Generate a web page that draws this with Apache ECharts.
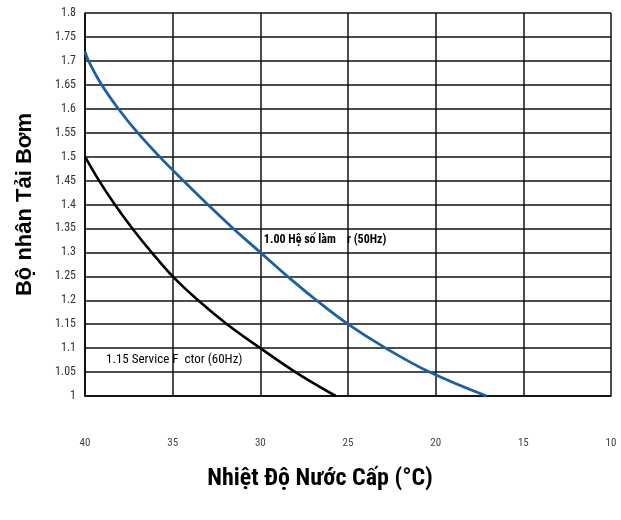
<!DOCTYPE html>
<html>
<head>
<meta charset="utf-8">
<script src="https://cdn.jsdelivr.net/npm/echarts@6/dist/echarts.min.js"></script>
<style>
  html, body { margin: 0; padding: 0; background: #fff; }
  #main { width: 621px; height: 520px; }
</style>
</head>
<body>
<div id="main"></div>
<script>
// x ticks (temperature, reversed axis)
var tempTicks = [40, 35, 30, 25, 20, 15, 10];

// 1.00 service factor (50Hz) curve
var blueTemp   = [40, 39.8, 39.05, 38.1, 37.0, 35.75, 34.4, 33.0, 31.55, 30, 28.45, 26.8, 25, 22.85, 20.35, 17.1];
var blueFactor = [1.72, 1.70, 1.65, 1.60, 1.55, 1.50, 1.45, 1.40, 1.35, 1.30, 1.25, 1.20, 1.15, 1.10, 1.05, 1.00];

// 1.15 service factor (60Hz) curve
var blackTemp   = [40, 39.2, 38.3, 37.3, 36.2, 35, 33.55, 31.9, 30, 28.0, 25.7];
var blackFactor = [1.50, 1.45, 1.40, 1.35, 1.30, 1.25, 1.20, 1.15, 1.10, 1.05, 1.00];

// annotation texts and where they sit (data coords)
var blueLabel  = { text: '1.00 Hệ số làm    r (50Hz)', at: [29.8, 1.325] };
var blackLabel = { text: '1.15 Service F  ctor (60Hz)', at: [38.8, 1.075] };

function pairs(xs, ys) {
  return xs.map(function (x, i) { return [x, ys[i]]; });
}

var narrow = "'Liberation Sans Narrow', 'Arial Narrow', 'Roboto Condensed', 'Liberation Sans', sans-serif";

var chart = echarts.init(document.getElementById('main'));

var option = {
  animation: false,
  grid: { left: 85, right: 10, top: 13, bottom: 124 },
  xAxis: {
    type: 'value',
    inverse: true,
    min: 10,
    max: 40,
    interval: 5,
    name: 'Nhiệt Độ Nước Cấp (°C)',
    nameLocation: 'middle',
    nameGap: 71,
    nameTextStyle: {
      fontFamily: narrow, fontWeight: 'bold', fontSize: 24, color: '#000',
      padding: [0, 56, 0, 0]
    },
    axisLine: { show: true, lineStyle: { color: '#000', width: 1.5 } },
    axisTick: { show: false },
    axisLabel: { margin: 42, fontFamily: narrow, fontSize: 11, color: '#444' },
    splitLine: { show: true, lineStyle: { color: '#111', width: 1.5 } }
  },
  yAxis: {
    type: 'value',
    min: 1,
    max: 1.8,
    interval: 0.05,
    name: 'Bộ nhân Tải Bơm',
    nameLocation: 'middle',
    nameGap: 49,
    nameTextStyle: { fontFamily: "'Liberation Sans', Arial, sans-serif", fontWeight: 'bold', fontSize: 22, color: '#000' },
    axisLine: { show: true, lineStyle: { color: '#000', width: 1.5 } },
    axisTick: { show: false },
    axisLabel: {
      margin: 9, fontFamily: narrow, fontSize: 12, color: '#333',
      formatter: function (v) { return String(+v.toFixed(2)); }
    },
    splitLine: { show: true, lineStyle: { color: '#111', width: 1.5 } }
  },
  series: [
    {
      name: '1.00 (50Hz)',
      type: 'line',
      smooth: 0.4,
      showSymbol: false,
      data: pairs(blueTemp, blueFactor),
      lineStyle: { color: '#1d5fa3', width: 2.8 },
      markPoint: {
        symbol: 'circle', symbolSize: 0,
        label: {
          show: true, position: 'right', distance: 0,
          fontFamily: narrow, fontWeight: 'bold', fontSize: 12, color: '#000',
          formatter: blueLabel.text
        },
        data: [{ coord: blueLabel.at }]
      }
    },
    {
      name: '1.15 (60Hz)',
      type: 'line',
      smooth: 0.4,
      showSymbol: false,
      data: pairs(blackTemp, blackFactor),
      lineStyle: { color: '#000', width: 2.6 },
      markPoint: {
        symbol: 'circle', symbolSize: 0,
        label: {
          show: true, position: 'right', distance: 0,
          fontFamily: narrow, fontSize: 13, color: '#000',
          formatter: blackLabel.text
        },
        data: [{ coord: blackLabel.at }]
      }
    }
  ]
};

chart.setOption(option);
</script>
</body>
</html>
